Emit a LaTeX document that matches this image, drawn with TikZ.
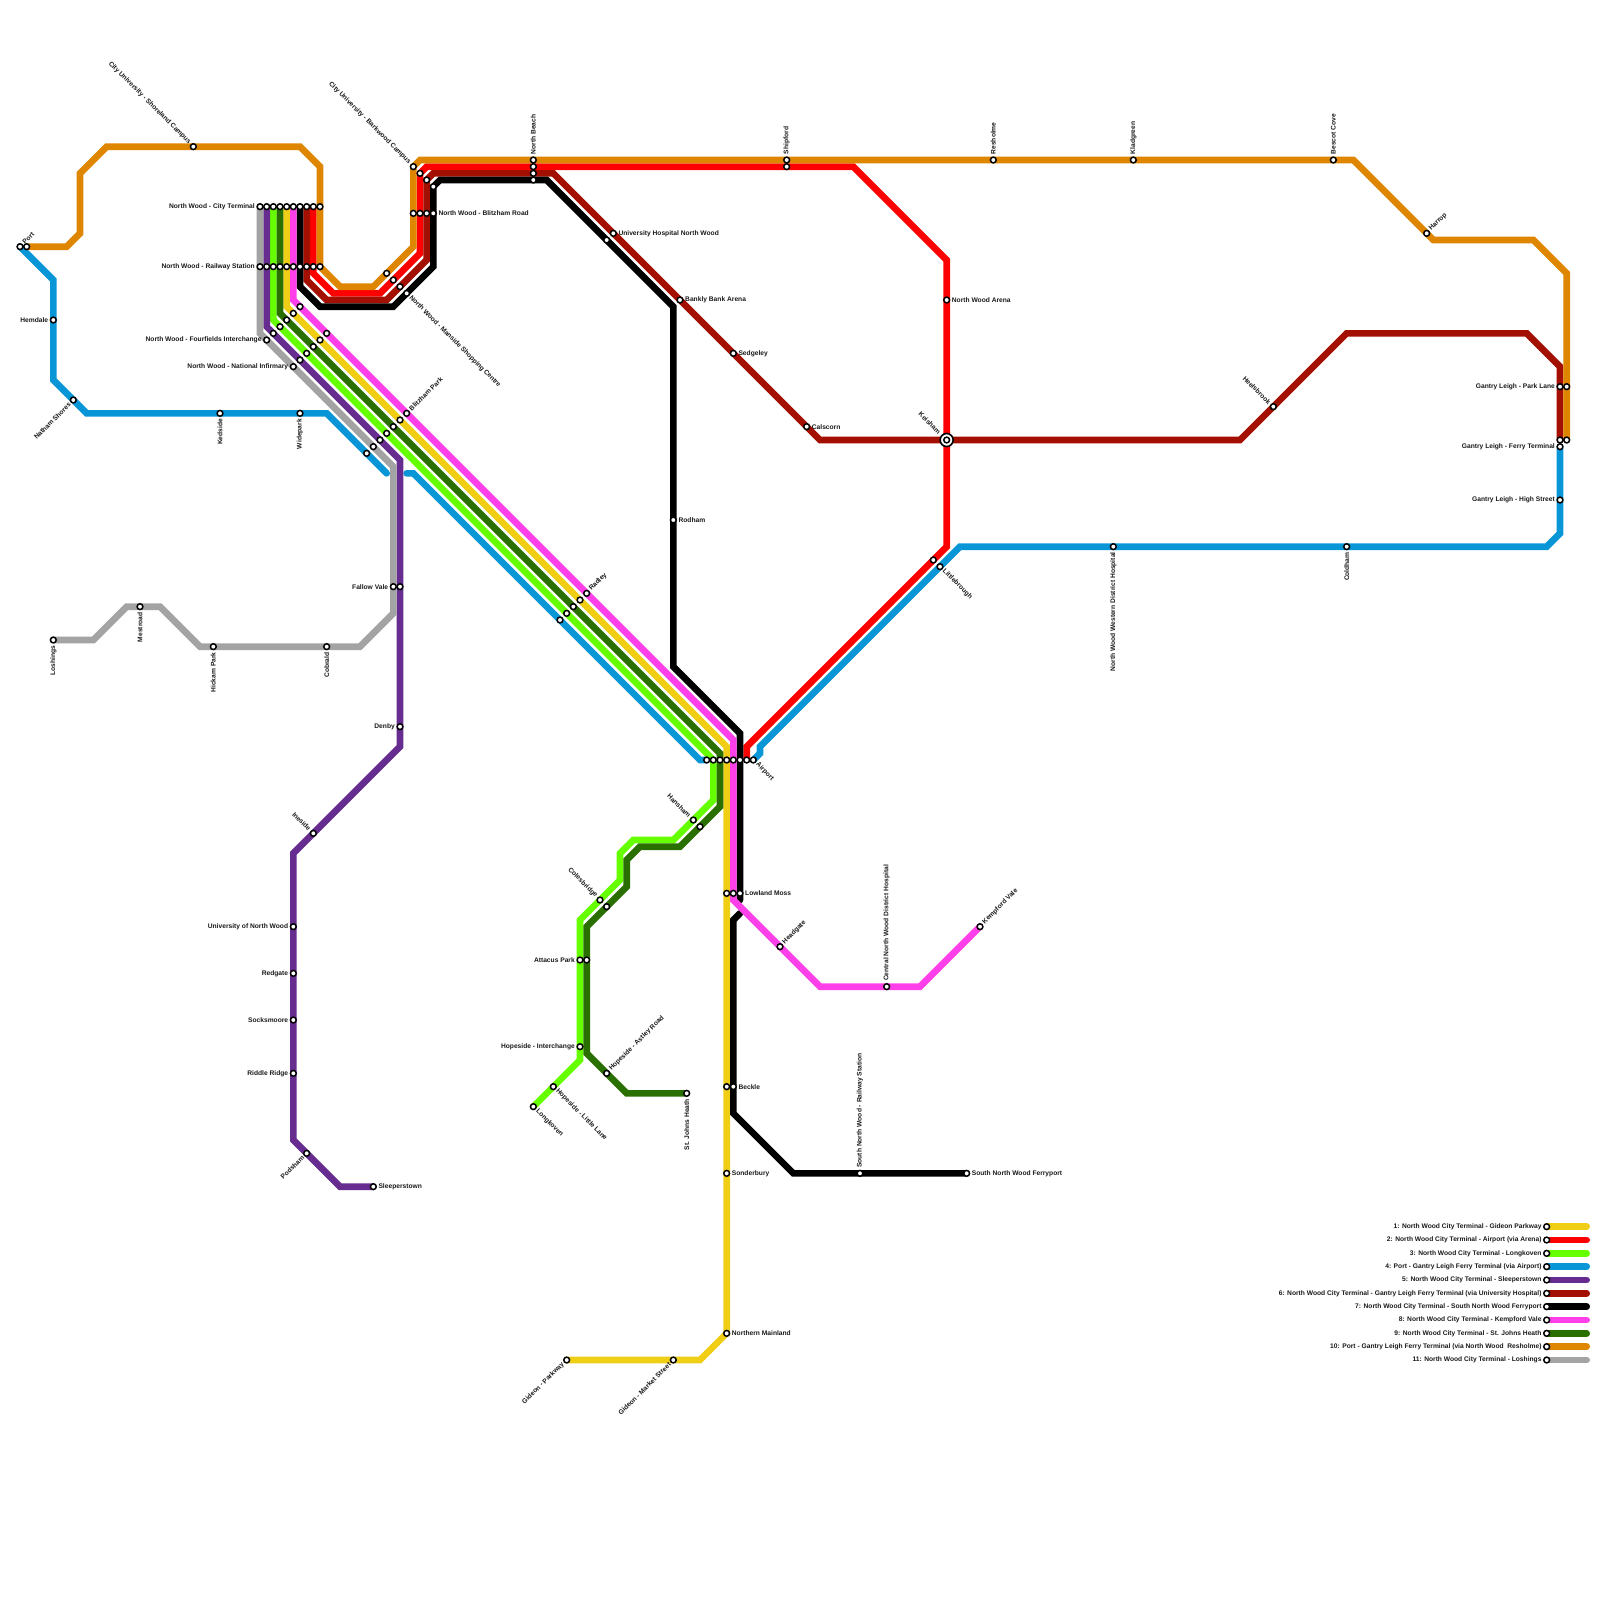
\documentclass[tikz,border=0pt]{standalone}
\usepackage{fontspec}
\setmainfont{Liberation Sans}
\definecolor{gelb}{HTML}{F0CE15}
\definecolor{rot}{HTML}{FF0000}
\definecolor{lime}{HTML}{66FF00}
\definecolor{blau}{HTML}{0896D7}
\definecolor{lila}{HTML}{662C90}
\definecolor{dunkelrot}{HTML}{A30F00}
\definecolor{magenta2}{HTML}{FF40E9}
\definecolor{dunkelgruen}{HTML}{2A7000}
\definecolor{orange2}{HTML}{DF8600}
\definecolor{grau}{HTML}{A3A3A3}
\tikzset{
  linie/.style={line width=6.667pt,line cap=round,line join=miter},
  stn/.style={circle,draw=black,fill=white,line width=1.5pt,minimum size=5.8pt,inner sep=0pt},
  stngross/.style={circle,draw=black,fill=white,line width=1.6pt,minimum size=13pt,inner sep=0pt},
  lbl/.style={font=\fontsize{6.67}{7}\selectfont\bfseries,text=black!90,inner sep=0pt},
  lleft/.style={xshift=-5pt,lbl,anchor=east},
  lright/.style={xshift=5pt,lbl,anchor=west},
  lup/.style={yshift=5.5pt,lbl,rotate=90,anchor=west},
  ldown/.style={yshift=-5.5pt,lbl,rotate=90,anchor=east},
  lne/.style={xshift=3.5pt,yshift=3.5pt,lbl,rotate=45,anchor=west},
  lse/.style={xshift=3.5pt,yshift=-3.5pt,lbl,rotate=-45,anchor=west},
  lnw/.style={xshift=-3.5pt,yshift=3.5pt,lbl,rotate=-45,anchor=east},
  lsw/.style={xshift=-3.5pt,yshift=-3.5pt,lbl,rotate=45,anchor=east},
}
\begin{document}
\begin{tikzpicture}[x=6.6667pt,y=-6.6667pt]
  \useasboundingbox (0,0) rectangle (240,240);
  \draw[linie,gelb] (43,31)--(43,46)--(109,112)--(109,200)--(105,204)--(85,204);
  \draw[linie,rot] (47,31)--(47,41)--(50,44)--(57,44)--(63,38)--(63,26)--(64,25)--(128,25)--(142,39)--(142,82)--(112,112)--(112,114);
  \draw[linie,lime] (41,31)--(41,48)--(107,114)--(107,120)--(101,126)--(95,126)--(93,128)--(93,132)--(87,138)--(87,159)--(80,166);
  \draw[linie,blau] (3,37)--(8,42)--(8,57)--(13,62)--(49,62)--(58,71);
  \draw[linie,blau] (61,71)--(62,71)--(105,114)--(106,114);
  \draw[linie,blau] (113,114)--(114,113)--(114,112)--(144,82)--(232,82)--(234,80)--(234,67);
  \draw[linie,lila] (40,31)--(40,49)--(60,69)--(60,112)--(44,128)--(44,171)--(51,178)--(56,178);
  \draw[linie,dunkelrot] (46,31)--(46,42)--(49,45)--(58,45)--(64,39)--(64,27)--(65,26)--(83,26)--(123,66)--(186,66)--(202,50)--(229,50)--(234,55)--(234,66);
  \draw[linie,black] (45,31)--(45,43)--(48,46)--(59,46)--(65,40)--(65,28)--(66,27)--(82,27)--(101,46)--(101,100)--(111,110)--(111,135);
  \draw[linie,black] (111,137)--(110,138)--(110,167)--(119,176)--(145,176);
  \draw[linie,magenta2] (44,31)--(44,45)--(110,111)--(110,135)--(123,148)--(138,148)--(147,139);
  \draw[linie,dunkelgruen] (42,31)--(42,47)--(108,113)--(108,121)--(102,127)--(96,127)--(94,129)--(94,133)--(88,139)--(88,158)--(94,164)--(103,164);
  \draw[linie,orange2] (4,37)--(10,37)--(12,35)--(12,26)--(16,22)--(45,22)--(48,25)--(48,40)--(51,43)--(56,43)--(62,37)--(62,25)--(63,24)--(203,24)--(215,36)--(230,36)--(235,41)--(235,66);
  \draw[linie,grau] (39,31)--(39,50)--(59,70)--(59,92)--(54,97)--(30,97)--(24,91)--(19,91)--(14,96)--(8,96);
  \foreach \y/\c in {184/gelb,186/rot,188/lime,190/blau,192/lila,194/dunkelrot,196/black,198/magenta2,200/dunkelgruen,202/orange2,204/grau}
    \draw[linie,\c] (232,\y)--(238,\y);
  \foreach \x/\y in {40/31,41/31,42/31,43/31,44/31,45/31,46/31,47/31,48/31,
    40/40,41/40,42/40,43/40,44/40,45/40,46/40,47/40,48/40,
    45/46,44/47,43/48,42/49,41/50,49/50,48/51,47/52,46/53,45/54,
    60/63,59/64,58/65,57/66,56/67,55/68,87/90,86/91,85/92,84/93,
    62/32,63/32,64/32,58/41,59/42,60/43,63/26,64/27,65/28,
    80/25,80/26,80/27,118/25,91/36,4/37,60/88,
    106/114,107/114,108/114,109/114,110/114,111/114,112/114,
    109/134,110/134,109/163,105/124,91/136,88/144,140/84,235/58,234/66,235/66}
    \node[stn] (s\x-\y) at (\x,\y) {};
  \foreach \x/\y/\t in {39/31/North Wood - City Terminal,39/40/North Wood - Railway Station,
    40/51/North Wood - Fourfields Interchange,44/55/North Wood - National Infirmary,8/48/Hemdale,
    59/88/Fallow Vale,60/109/Denby,44/139/University of North Wood,44/146/Redgate,44/153/Socksmoore,
    44/161/Riddle Ridge,87/144/Attacus Park,87/157/Hopeside - Interchange,234/58/Gantry Leigh - Park Lane,
    234/67/Gantry Leigh - Ferry Terminal,234/75/Gantry Leigh - High Street,
    232/184/1: North Wood City Terminal - Gideon Parkway,232/186/2: North Wood City Terminal - Airport (via Arena),
    232/188/3: North Wood City Terminal - Longkoven,232/190/4: Port - Gantry Leigh Ferry Terminal (via Airport),
    232/192/5: North Wood City Terminal - Sleeperstown,
    232/194/6: North Wood City Terminal - Gantry Leigh Ferry Terminal (via University Hospital),
    232/196/7: North Wood City Terminal - South North Wood Ferryport,232/198/8: North Wood City Terminal - Kempford Vale,
    232/200/9: North Wood City Terminal - St. Johns Heath,
    232/202/10: Port - Gantry Leigh Ferry Terminal (via North Wood\ \ Resholme),232/204/11: North Wood City Terminal - Loshings}{
    \node[stn] (s\x-\y) at (\x,\y) {};
    \node[lleft] (t\x-\y) at (\x,\y) {\t};}
  \foreach \x/\y/\t in {65/32/North Wood - Blitzham Road,92/35/University Hospital North Wood,102/45/Bankly Bank Arena,
    110/53/Sedgeley,121/64/Calscorn,142/45/North Wood Arena,101/78/Rodham,111/134/Lowland Moss,110/163/Beckle,
    109/176/Sonderbury,109/200/Northern Mainland,145/176/South North Wood Ferryport,56/178/Sleeperstown}{
    \node[stn] (s\x-\y) at (\x,\y) {};
    \node[lright] (t\x-\y) at (\x,\y) {\t};}
  \foreach \x/\y/\t in {80/24/North Beach,118/24/Shipford,149/24/Resholme,170/24/Kladgreen,200/24/Bescot Cove,
    133/148/Central North Wood District Hospital,129/176/South North Wood - Railway Station}{
    \node[stn] (s\x-\y) at (\x,\y) {};
    \node[lup] (t\x-\y) at (\x,\y) {\t};}
  \foreach \x/\y/\t in {33/62/Kedside,45/62/Widepark,8/96/Loshings,21/91/Mestroad,32/97/Hickam Park,49/97/Cobrald,
    167/82/North Wood Western District Hospital,202/82/Coldham,103/164/St. Johns Heath}{
    \node[stn] (s\x-\y) at (\x,\y) {};
    \node[ldown] (t\x-\y) at (\x,\y) {\t};}
  \foreach \x/\y/\t in {3/37/Port,61/62/Blitzham Park,88/89/Radley,214/35/Harrop,117/142/Headgate,147/139/Kempford Vale,
    91/161/Hopeside - Astley Road}{
    \node[stn] (s\x-\y) at (\x,\y) {};
    \node[lne] (t\x-\y) at (\x,\y) {\t};}
  \foreach \x/\y/\t in {61/44/North Wood - Manside Shopping Centre,113/114/Airport,141/85/Littlebrough,
    83/163/Hopeside - Little Lane,80/166/Longkoven}{
    \node[stn] (s\x-\y) at (\x,\y) {};
    \node[lse] (t\x-\y) at (\x,\y) {\t};}
  \foreach \x/\y/\t in {29/22/City University - Shoreland Campus,62/25/City University - Barkwood Campus,
    191/61/Heelsbrook,47/125/Ineside,104/123/Hansham,90/135/Colesbridge}{
    \node[stn] (s\x-\y) at (\x,\y) {};
    \node[lnw] (t\x-\y) at (\x,\y) {\t};}
  \foreach \x/\y/\t in {11/60/Natham Shores,46/173/Podsham,85/204/Gideon - Parkway,101/204/Gideon - Market Street}{
    \node[stn] (s\x-\y) at (\x,\y) {};
    \node[lsw] (t\x-\y) at (\x,\y) {\t};}
  \node[stngross] (keisham) at (142,66) {};
  \node[stn] (keishamin) at (142,66) {};
  \node[xshift=-7pt,yshift=7pt,lbl,rotate=-45,anchor=east] (tkeisham) at (142,66) {Keisham};
\end{tikzpicture}
\end{document}
